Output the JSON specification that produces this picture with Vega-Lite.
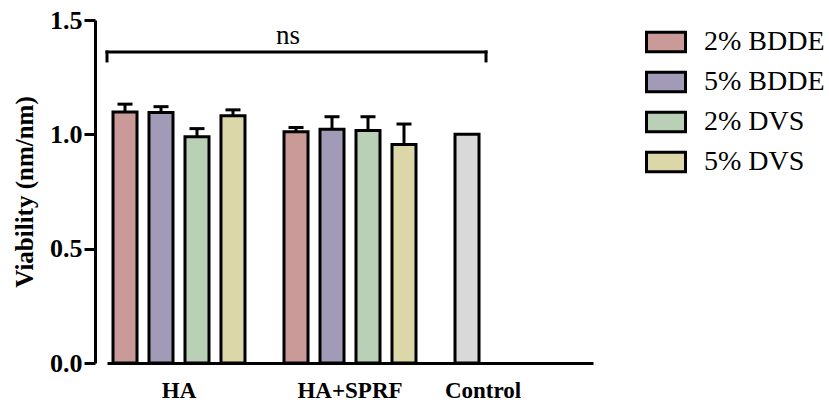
{
  "$schema": "https://vega.github.io/schema/vega-lite/v6.json",
  "autosize": "none",
  "padding": {"left": 95, "top": 20, "right": 283, "bottom": 40},
  "width": 451,
  "height": 343,
  "background": "white",
  "datasets": {
    "bars": [
      {"group": "HA", "series": "2% BDDE", "value": 1.098, "upper": 1.132},
      {"group": "HA", "series": "5% BDDE", "value": 1.095, "upper": 1.121},
      {"group": "HA", "series": "2% DVS", "value": 0.989, "upper": 1.025},
      {"group": "HA", "series": "5% DVS", "value": 1.081, "upper": 1.107},
      {"group": "HA+SPRF", "series": "2% BDDE", "value": 1.011, "upper": 1.030},
      {"group": "HA+SPRF", "series": "5% BDDE", "value": 1.022, "upper": 1.077},
      {"group": "HA+SPRF", "series": "2% DVS", "value": 1.017, "upper": 1.077},
      {"group": "HA+SPRF", "series": "5% DVS", "value": 0.955, "upper": 1.045},
      {"group": "Control", "series": "Control", "value": 1.0, "upper": 1.0}
    ],
    "bracket": [
      {"from": "HA", "to": "Control", "y": 1.36, "y_tick": 1.321, "label_y": 1.395, "label": "ns"}
    ]
  },
  "resolve": {"scale": {"xOffset": "independent"}},
  "layer": [
    {
      "data": {"name": "bars"},
      "transform": [{"filter": "datum.series != 'Control'"}],
      "mark": {"type": "bar", "stroke": "black", "strokeWidth": 3, "opacity": 1},
      "encoding": {
        "x": {"field": "group", "type": "nominal",
          "scale": {"domain": ["HA", "HA+SPRF", "Control"], "range": [12, 498], "paddingInner": 0.158, "paddingOuter": 0},
          "axis": {"title": null, "labelAngle": 0, "domainWidth": 3, "domainColor": "black", "ticks": false, "tickSize": 0,
            "labelFont": "Liberation Serif", "labelFontWeight": "bold", "labelFontSize": 23, "labelColor": "black", "labelPadding": 16,
            "labelOffset": {"condition": {"test": "datum.value == 'Control'", "value": -38}, "value": 0}}},
        "xOffset": {"field": "series", "type": "nominal",
          "scale": {"domain": ["2% BDDE", "5% BDDE", "2% DVS", "5% DVS"], "paddingInner": 0.333, "paddingOuter": 0.1667}},
        "y": {"field": "value", "type": "quantitative",
          "scale": {"domain": [0, 1.5], "nice": false},
          "axis": {"title": "Viability (nm/nm)", "values": [0, 0.5, 1, 1.5], "format": ".1f", "grid": false,
            "domainWidth": 3, "domainColor": "black", "tickWidth": 3, "tickColor": "black", "tickSize": 11,
            "labelFont": "Liberation Serif", "labelFontWeight": "bold", "labelFontSize": 26, "labelColor": "black", "labelPadding": 2,
            "titleFont": "Liberation Serif", "titleFontWeight": "bold", "titleFontSize": 25, "titleColor": "black", "titlePadding": 12}},
        "color": {"field": "series", "type": "nominal",
          "scale": {"domain": ["2% BDDE", "5% BDDE", "2% DVS", "5% DVS", "Control"],
            "range": ["#C99A98", "#A29BB8", "#B9CFB6", "#DCD7A8", "#D9D9D9"]},
          "legend": {"title": null, "values": ["2% BDDE", "5% BDDE", "2% DVS", "5% DVS"], "orient": "none",
            "legendX": 550, "legendY": 1, "padding": 0, "rowPadding": 3,
            "symbolType": "M-1,-0.5H1V0.5H-1Z", "symbolSize": 1521, "symbolStrokeColor": "black", "symbolStrokeWidth": 3,
            "symbolOpacity": 1, "labelFont": "Liberation Serif", "labelFontSize": 28, "labelColor": "black", "labelOffset": 17}}
      }
    },
    {
      "data": {"name": "bars"},
      "transform": [{"filter": "datum.series == 'Control'"}],
      "mark": {"type": "bar", "stroke": "black", "strokeWidth": 3, "opacity": 1},
      "encoding": {
        "x": {"field": "group", "type": "nominal", "scale": {"domain": ["HA", "HA+SPRF", "Control"]}},
        "xOffset": {"field": "series", "type": "nominal",
          "scale": {"domain": ["Control", "slot2", "slot3", "slot4"], "paddingInner": 0.333, "paddingOuter": 0.1667}},
        "y": {"field": "value", "type": "quantitative"},
        "color": {"field": "series", "type": "nominal"}
      }
    },
    {
      "data": {"name": "bars"},
      "transform": [{"filter": "datum.series != 'Control'"}],
      "mark": {"type": "rule", "stroke": "black", "strokeWidth": 3},
      "encoding": {
        "x": {"field": "group", "type": "nominal", "scale": {"domain": ["HA", "HA+SPRF", "Control"]}},
        "xOffset": {"field": "series", "type": "nominal",
          "scale": {"domain": ["2% BDDE", "5% BDDE", "2% DVS", "5% DVS"], "paddingInner": 0.333, "paddingOuter": 0.1667}},
        "y": {"field": "value", "type": "quantitative"},
        "y2": {"field": "upper"}
      }
    },
    {
      "data": {"name": "bars"},
      "transform": [{"filter": "datum.series != 'Control'"}],
      "mark": {"type": "tick", "color": "black", "size": 15, "thickness": 3, "opacity": 1},
      "encoding": {
        "x": {"field": "group", "type": "nominal", "scale": {"domain": ["HA", "HA+SPRF", "Control"]}},
        "xOffset": {"field": "series", "type": "nominal",
          "scale": {"domain": ["2% BDDE", "5% BDDE", "2% DVS", "5% DVS"], "paddingInner": 0.333, "paddingOuter": 0.1667}},
        "y": {"field": "upper", "type": "quantitative"}
      }
    },
    {
      "data": {"name": "bracket"},
      "mark": {"type": "rule", "stroke": "black", "strokeWidth": 3, "strokeCap": "square"},
      "encoding": {
        "x": {"field": "from", "type": "nominal", "bandPosition": 0, "scale": {"domain": ["HA", "HA+SPRF", "Control"]}},
        "x2": {"field": "to", "bandPosition": 0.257},
        "y": {"field": "y", "type": "quantitative"}
      }
    },
    {
      "data": {"name": "bracket"},
      "mark": {"type": "rule", "stroke": "black", "strokeWidth": 3, "strokeCap": "square"},
      "encoding": {
        "x": {"field": "from", "type": "nominal", "bandPosition": 0, "scale": {"domain": ["HA", "HA+SPRF", "Control"]}},
        "y": {"field": "y_tick", "type": "quantitative"},
        "y2": {"field": "y"}
      }
    },
    {
      "data": {"name": "bracket"},
      "mark": {"type": "rule", "stroke": "black", "strokeWidth": 3, "strokeCap": "square"},
      "encoding": {
        "x": {"field": "to", "type": "nominal", "bandPosition": 0.257, "scale": {"domain": ["HA", "HA+SPRF", "Control"]}},
        "y": {"field": "y_tick", "type": "quantitative"},
        "y2": {"field": "y"}
      }
    },
    {
      "data": {"name": "bracket"},
      "mark": {"type": "text", "font": "Liberation Serif", "fontSize": 27, "color": "black", "baseline": "alphabetic", "align": "center"},
      "encoding": {
        "x": {"datum": "HA+SPRF", "type": "nominal", "bandPosition": 0.07, "scale": {"domain": ["HA", "HA+SPRF", "Control"]}},
        "y": {"field": "label_y", "type": "quantitative"},
        "text": {"field": "label"}
      }
    }
  ],
  "config": {"view": {"stroke": null}}
}
